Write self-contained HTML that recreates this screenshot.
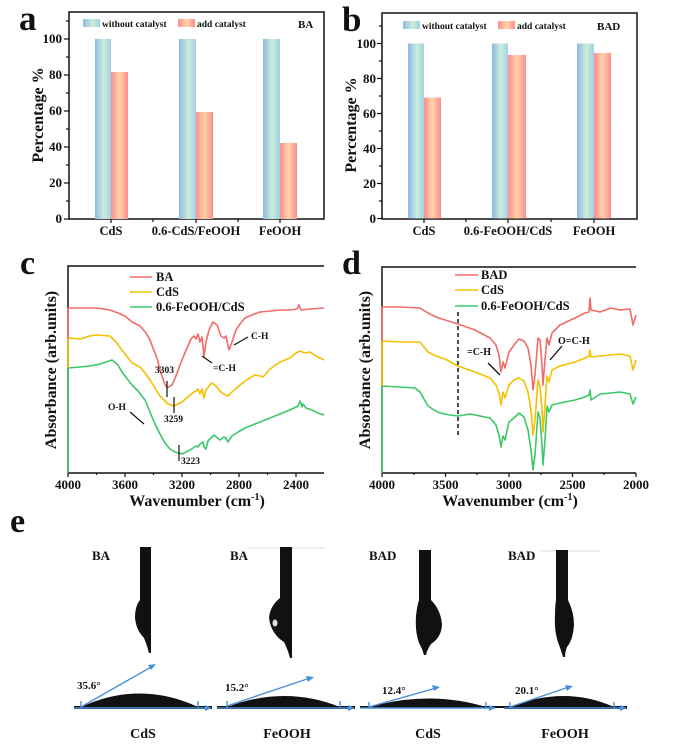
<!DOCTYPE html>
<html><head><meta charset="utf-8"><style>
html,body{margin:0;padding:0;background:#fff}
svg{display:block}
text{font-family:"Liberation Serif",serif;font-weight:bold;fill:#111}
</style></head><body>
<svg width="689" height="746" viewBox="0 0 689 746" xmlns="http://www.w3.org/2000/svg">
<defs>
<linearGradient id="gb" x1="0" x2="1" y1="0" y2="0"><stop offset="0" stop-color="#8fb9e6"/><stop offset="0.55" stop-color="#c9eed9"/><stop offset="1" stop-color="#a3cfe6"/></linearGradient>
<linearGradient id="gr" x1="0" x2="1" y1="0" y2="0"><stop offset="0" stop-color="#fb8f8f"/><stop offset="0.5" stop-color="#ffd3a8"/><stop offset="1" stop-color="#fb8f8f"/></linearGradient>
</defs>

<!-- Panel a -->
<text x="19" y="30" font-size="35">a</text>
<rect x="69" y="12" width="255" height="207" fill="none" stroke="#111" stroke-width="1.5"/>
<g stroke="#111" stroke-width="1.2">
<line x1="64" y1="219" x2="69" y2="219"/><line x1="64" y1="183" x2="69" y2="183"/><line x1="64" y1="147" x2="69" y2="147"/><line x1="64" y1="111" x2="69" y2="111"/><line x1="64" y1="75" x2="69" y2="75"/><line x1="64" y1="39" x2="69" y2="39"/>
<line x1="66" y1="201" x2="69" y2="201"/><line x1="66" y1="165" x2="69" y2="165"/><line x1="66" y1="129" x2="69" y2="129"/><line x1="66" y1="93" x2="69" y2="93"/><line x1="66" y1="57" x2="69" y2="57"/><line x1="66" y1="21" x2="69" y2="21"/>
<line x1="111" y1="219" x2="111" y2="223"/><line x1="196" y1="219" x2="196" y2="223"/><line x1="280" y1="219" x2="280" y2="223"/><line x1="153" y1="219" x2="153" y2="222"/><line x1="238" y1="219" x2="238" y2="222"/>
</g>
<g font-size="13" text-anchor="end">
<text x="62" y="223">0</text><text x="62" y="187">20</text><text x="62" y="151">40</text><text x="62" y="115">60</text><text x="62" y="79">80</text><text x="62" y="43">100</text>
</g>
<text transform="translate(43,115) rotate(-90)" font-size="16" text-anchor="middle">Percentage  %</text>
<rect x="95" y="39" width="16" height="180" fill="url(#gb)"/><rect x="111" y="72" width="17" height="147" fill="url(#gr)"/>
<rect x="179" y="39" width="17" height="180" fill="url(#gb)"/><rect x="196" y="112" width="17" height="107" fill="url(#gr)"/>
<rect x="263" y="39" width="17" height="180" fill="url(#gb)"/><rect x="280" y="143" width="17" height="76" fill="url(#gr)"/>
<rect x="83" y="19" width="17" height="8" fill="url(#gb)"/><text x="102" y="27" font-size="9.5">without catalyst</text>
<rect x="178" y="19" width="17" height="8" fill="url(#gr)"/><text x="197" y="27" font-size="9.5">add catalyst</text>
<text x="298" y="28" font-size="11">BA</text>
<g font-size="12.5" text-anchor="middle"><text x="111" y="235">CdS</text><text x="196" y="235">0.6-CdS/FeOOH</text><text x="280" y="235">FeOOH</text></g>

<!-- Panel b -->
<text x="342" y="31" font-size="35">b</text>
<rect x="382" y="13" width="255" height="206" fill="none" stroke="#111" stroke-width="1.5"/>
<g stroke="#111" stroke-width="1.2">
<line x1="377" y1="218.5" x2="382" y2="218.5"/><line x1="377" y1="183.5" x2="382" y2="183.5"/><line x1="377" y1="148.5" x2="382" y2="148.5"/><line x1="377" y1="113.5" x2="382" y2="113.5"/><line x1="377" y1="78.5" x2="382" y2="78.5"/><line x1="377" y1="43.5" x2="382" y2="43.5"/>
<line x1="379" y1="201" x2="382" y2="201"/><line x1="379" y1="166" x2="382" y2="166"/><line x1="379" y1="131" x2="382" y2="131"/><line x1="379" y1="96" x2="382" y2="96"/><line x1="379" y1="61" x2="382" y2="61"/><line x1="379" y1="26" x2="382" y2="26"/>
<line x1="424" y1="219" x2="424" y2="223"/><line x1="508" y1="219" x2="508" y2="223"/><line x1="594" y1="219" x2="594" y2="223"/><line x1="466" y1="219" x2="466" y2="222"/><line x1="551" y1="219" x2="551" y2="222"/>
</g>
<g font-size="13" text-anchor="end">
<text x="376" y="223">0</text><text x="376" y="188">20</text><text x="376" y="153">40</text><text x="376" y="118">60</text><text x="376" y="83">80</text><text x="376" y="48">100</text>
</g>
<text transform="translate(356,125) rotate(-90)" font-size="16" text-anchor="middle">Percentage  %</text>
<rect x="408" y="43.5" width="16" height="175" fill="url(#gb)"/><rect x="424" y="97.5" width="17" height="121" fill="url(#gr)"/>
<rect x="492" y="43.5" width="16" height="175" fill="url(#gb)"/><rect x="508" y="55" width="18" height="163.5" fill="url(#gr)"/>
<rect x="577" y="43.5" width="17" height="175" fill="url(#gb)"/><rect x="594" y="53" width="17" height="165.5" fill="url(#gr)"/>
<rect x="403" y="21" width="17" height="8" fill="url(#gb)"/><text x="422" y="29" font-size="9.5">without catalyst</text>
<rect x="498" y="21" width="17" height="8" fill="url(#gr)"/><text x="517" y="29" font-size="9.5">add catalyst</text>
<text x="597" y="30" font-size="11">BAD</text>
<g font-size="12.5" text-anchor="middle"><text x="424" y="235">CdS</text><text x="508" y="235">0.6-FeOOH/CdS</text><text x="594" y="235">FeOOH</text></g>

<!-- Panel c -->
<text x="20" y="274" font-size="34">c</text>
<path d="M68,473 V266 H324" fill="none" stroke="#111" stroke-width="1.5"/>
<line x1="68" y1="473" x2="324" y2="473" stroke="#111" stroke-width="1.5"/>
<g stroke="#111" stroke-width="1.2">
<line x1="68" y1="473" x2="68" y2="477"/><line x1="125" y1="473" x2="125" y2="477"/><line x1="182" y1="473" x2="182" y2="477"/><line x1="239" y1="473" x2="239" y2="477"/><line x1="296" y1="473" x2="296" y2="477"/>
<line x1="96.5" y1="473" x2="96.5" y2="475"/><line x1="153.5" y1="473" x2="153.5" y2="475"/><line x1="210.5" y1="473" x2="210.5" y2="475"/><line x1="267.5" y1="473" x2="267.5" y2="475"/>
</g>
<g font-size="13" text-anchor="middle"><text x="68" y="489">4000</text><text x="125" y="489">3600</text><text x="182" y="489">3200</text><text x="239" y="489">2800</text><text x="296" y="489">2400</text></g>
<text x="197" y="506" font-size="16" text-anchor="middle">Wavenumber (cm<tspan font-size="10" dy="-6">-1</tspan><tspan dy="6">)</tspan></text>
<text transform="translate(56,370) rotate(-90)" font-size="16" text-anchor="middle">Absorbance (arb.units)</text>
<g fill="none" stroke-width="1.6" stroke-linejoin="round">
<polyline stroke="#3cc76a" points="68,473 68,368 80,367 90,366 100,364 112,360 118,365 122,372 132,385 138,391 145,400 150,412 155,424 160,434 165,443 170,449 175,452 182,454 190,450 196,446 198,447 200,444 203,442 204,447 206,449 208,441 209,440 214,435 220,440 224,437 226,438 228,442 232,436 238,432 245,428 255,424 265,420 275,416 285,412 292,409 298,406 300,401 302,407 303,404 306,408 312,410 318,413 324,415"/>
<polyline stroke="#f5c000" points="68,368 68,338 80,339 90,336 96,335 110,336 116,342 122,350 132,363 140,367 145,373 150,380 155,388 160,396 168,404 174,406 182,402 190,395 194,392 196,391 198,389 200,394 202,389 204,398 206,390 210,385 212,383 216,386 220,391 222,393 226,395 228,396 232,392 240,385 248,379 255,375 260,376 263,377 270,369 280,362 290,358 296,353 300,351 305,353 310,352 316,356 324,360"/>
<polyline stroke="#f26b6b" points="68,338 68,308 80,308 96,308 104,309 110,310 118,313 125,316 132,322 140,326 146,333 150,340 153,348 157,358 160,370 164,382 167,388 172,385 176,376 180,365 184,355 188,346 191,339 194,336 196,339 198,334 200,342 202,337 204,356 206,342 209,330 213,322 217,325 221,336 224,338 226,336 229,350 232,342 236,330 240,324 245,318 252,315 260,312 270,311 280,310 290,310 297,309 299,305 301,310 310,309 324,308"/>
</g>
<g stroke-width="1.6">
<line x1="130" y1="277" x2="152" y2="277" stroke="#f26b6b"/>
<line x1="130" y1="292" x2="152" y2="292" stroke="#f5c000"/>
<line x1="130" y1="307" x2="152" y2="307" stroke="#3cc76a"/>
</g>
<g font-size="12.5"><text x="156" y="281">BA</text><text x="156" y="296">CdS</text><text x="156" y="311">0.6-FeOOH/CdS</text></g>
<g stroke="#111" stroke-width="1.2">
<line x1="167" y1="381" x2="167" y2="397"/><line x1="174" y1="397" x2="174" y2="413"/><line x1="179" y1="445" x2="179" y2="461"/>
<line x1="130" y1="412" x2="144" y2="424"/><line x1="212" y1="363" x2="202" y2="356"/><line x1="234" y1="345" x2="248" y2="337"/>
</g>
<g font-size="9.5"><text x="155" y="373">3303</text><text x="164" y="422">3259</text><text x="181" y="464">3223</text><text x="108" y="410">O-H</text><text x="213" y="371">=C-H</text><text x="251" y="339">C-H</text></g>

<!-- Panel d -->
<text x="342" y="274" font-size="34">d</text>
<path d="M382,473 V267 H636" fill="none" stroke="#111" stroke-width="1.5"/>
<line x1="382" y1="473" x2="636" y2="473" stroke="#111" stroke-width="1.5"/>
<g stroke="#111" stroke-width="1.2">
<line x1="382" y1="473" x2="382" y2="477"/><line x1="445.5" y1="473" x2="445.5" y2="477"/><line x1="509" y1="473" x2="509" y2="477"/><line x1="572.5" y1="473" x2="572.5" y2="477"/><line x1="636" y1="473" x2="636" y2="477"/>
<line x1="414" y1="473" x2="414" y2="475"/><line x1="477" y1="473" x2="477" y2="475"/><line x1="541" y1="473" x2="541" y2="475"/><line x1="604" y1="473" x2="604" y2="475"/>
</g>
<g font-size="13" text-anchor="middle"><text x="382" y="489">4000</text><text x="445.5" y="489">3500</text><text x="509" y="489">3000</text><text x="572.5" y="489">2500</text><text x="636" y="489">2000</text></g>
<text x="510" y="506" font-size="16" text-anchor="middle">Wavenumber (cm<tspan font-size="10" dy="-6">-1</tspan><tspan dy="6">)</tspan></text>
<text transform="translate(370,370) rotate(-90)" font-size="16" text-anchor="middle">Absorbance (arb.units)</text>
<g fill="none" stroke-width="1.6" stroke-linejoin="round">
<polyline stroke="#3cc76a" points="382,473 382,386 400,387 415,388 420,392 428,406 434,410 440,413 450,415 458,416 470,414 480,416 490,418 496,425 499,435 501,447 503,436 505,440 509,422 514,418 519,413 524,417 528,430 531,450 533,470 535,455 538,412 540,418 542,445 543,465 545,440 547,406 549,412 552,405 560,403 575,400 585,397 589,395 590,390 591,400 600,394 611,393 620,392 630,394 633,404 636,397"/>
<polyline stroke="#f5c000" points="382,386 382,341 400,342 420,342 428,352 436,356 445,359 458,366 475,372 490,378 496,385 499,393 501,405 503,392 505,398 509,385 514,380 519,378 524,381 528,392 531,410 533,435 535,420 538,380 540,386 542,410 543,432 545,405 547,376 549,382 552,370 560,366 575,362 585,358 589,356 590,350 591,357 600,356 611,355 620,354 630,356 633,370 636,360"/>
<polyline stroke="#f26b6b" points="382,341 382,307 400,307 420,308 428,313 436,317 445,320 458,324 475,330 490,338 496,345 499,355 501,372 503,362 505,368 509,352 514,345 519,339 524,341 528,348 531,365 533,390 535,375 538,338 540,340 542,365 543,385 545,360 547,338 549,345 552,333 560,325 575,318 585,313 589,312 590,298 591,310 600,312 611,308 620,310 630,309 633,325 636,315"/>
</g>
<line x1="458" y1="312" x2="458" y2="437" stroke="#111" stroke-width="1.5" stroke-dasharray="4,3"/>
<g stroke-width="1.6">
<line x1="455" y1="275" x2="478" y2="275" stroke="#f26b6b"/>
<line x1="455" y1="290" x2="478" y2="290" stroke="#f5c000"/>
<line x1="455" y1="306" x2="478" y2="306" stroke="#3cc76a"/>
</g>
<g font-size="12.5"><text x="481" y="279">BAD</text><text x="481" y="294">CdS</text><text x="481" y="310">0.6-FeOOH/CdS</text></g>
<g stroke="#111" stroke-width="1.3"><line x1="488" y1="363" x2="500" y2="375"/><line x1="550" y1="360" x2="562" y2="346"/></g>
<g font-size="10"><text x="467" y="355">=C-H</text><text x="558" y="344">O=C-H</text></g>

<!-- Panel e -->
<text x="10" y="532" font-size="34">e</text>
<g font-size="13"><text x="92" y="560">BA</text><text x="230" y="560">BA</text><text x="369" y="560">BAD</text><text x="508" y="560">BAD</text></g>
<line x1="248" y1="548" x2="325" y2="548" stroke="#ddd" stroke-width="1"/>
<line x1="540" y1="551" x2="600" y2="551" stroke="#ddd" stroke-width="1"/>
<g fill="#111">
<path d="M140,547 H151 V653 L149,653 Q147,645 144,638 Q136,630 135,618 Q135,606 140,600 Z"/>
<path d="M280,547 H292 V658 L290,658 Q288,650 284,642 Q271,634 269,618 Q270,606 280,598 Z"/>
<ellipse cx="275" cy="623" rx="2.5" ry="3.5" fill="#ddd"/>
<path d="M419,550 H431 V600 Q441,610 442,625 Q441,638 431,644 Q427,650 426,655 L424,655 Q422,648 419,643 Q415,632 416,616 Q417,606 419,600 Z"/>
<path d="M556,550 H568 V600 Q574,612 574,625 Q573,640 567,647 Q565,652 565,657 L563,657 Q561,650 559,645 Q554,632 555,616 Q555,606 556,600 Z"/>
<path d="M81,707 Q140,680 198,707 Z"/>
<path d="M227,707 Q285,685 340,707 Z"/>
<path d="M369,707 Q430,690 486,707 Z"/>
<path d="M510,707 Q565,685 614,707 Z"/>
<rect x="74" y="706" width="138" height="3"/><rect x="217" y="706" width="138" height="3"/><rect x="360" y="706" width="263" height="2"/><rect x="504" y="706" width="123" height="3"/>
</g>
<g stroke="#4a90d9" stroke-width="1.4" fill="#4a90d9">
<line x1="74" y1="708" x2="208" y2="708"/><path d="M212,708 l-7,-3 v6 z" stroke="none"/>
<line x1="81" y1="707" x2="153" y2="666"/><path d="M156,664 l-8,1 l3,5 z" stroke="none"/>
<line x1="217" y1="708" x2="351" y2="708"/><path d="M355,708 l-7,-3 v6 z" stroke="none"/>
<line x1="227" y1="706" x2="310" y2="678"/><path d="M314,677 l-8,-1 l2,6 z" stroke="none"/>
<line x1="360" y1="708" x2="492" y2="708"/><path d="M496,708 l-7,-3 v6 z" stroke="none"/>
<line x1="369" y1="707" x2="436" y2="688"/><path d="M440,687 l-8,-2 l2,6 z" stroke="none"/>
<line x1="504" y1="708" x2="623" y2="708"/><path d="M627,708 l-7,-3 v6 z" stroke="none"/>
<line x1="510" y1="707" x2="569" y2="687"/><path d="M573,686 l-8,-1 l2,6 z" stroke="none"/>
<line x1="81" y1="701" x2="81" y2="708"/><line x1="198" y1="701" x2="198" y2="708"/><line x1="227" y1="701" x2="227" y2="708"/><line x1="340" y1="701" x2="340" y2="708"/><line x1="369" y1="702" x2="369" y2="708"/><line x1="486" y1="702" x2="486" y2="708"/><line x1="510" y1="702" x2="510" y2="708"/><line x1="614" y1="702" x2="614" y2="708"/>
</g>
<g font-size="11"><text x="77" y="689">35.6°</text><text x="225" y="691">15.2°</text><text x="382" y="694">12.4°</text><text x="515" y="694">20.1°</text></g>
<g font-size="14" text-anchor="middle"><text x="143" y="738">CdS</text><text x="287" y="738">FeOOH</text><text x="428" y="738">CdS</text><text x="565" y="738">FeOOH</text></g>
</svg>
</body></html>
